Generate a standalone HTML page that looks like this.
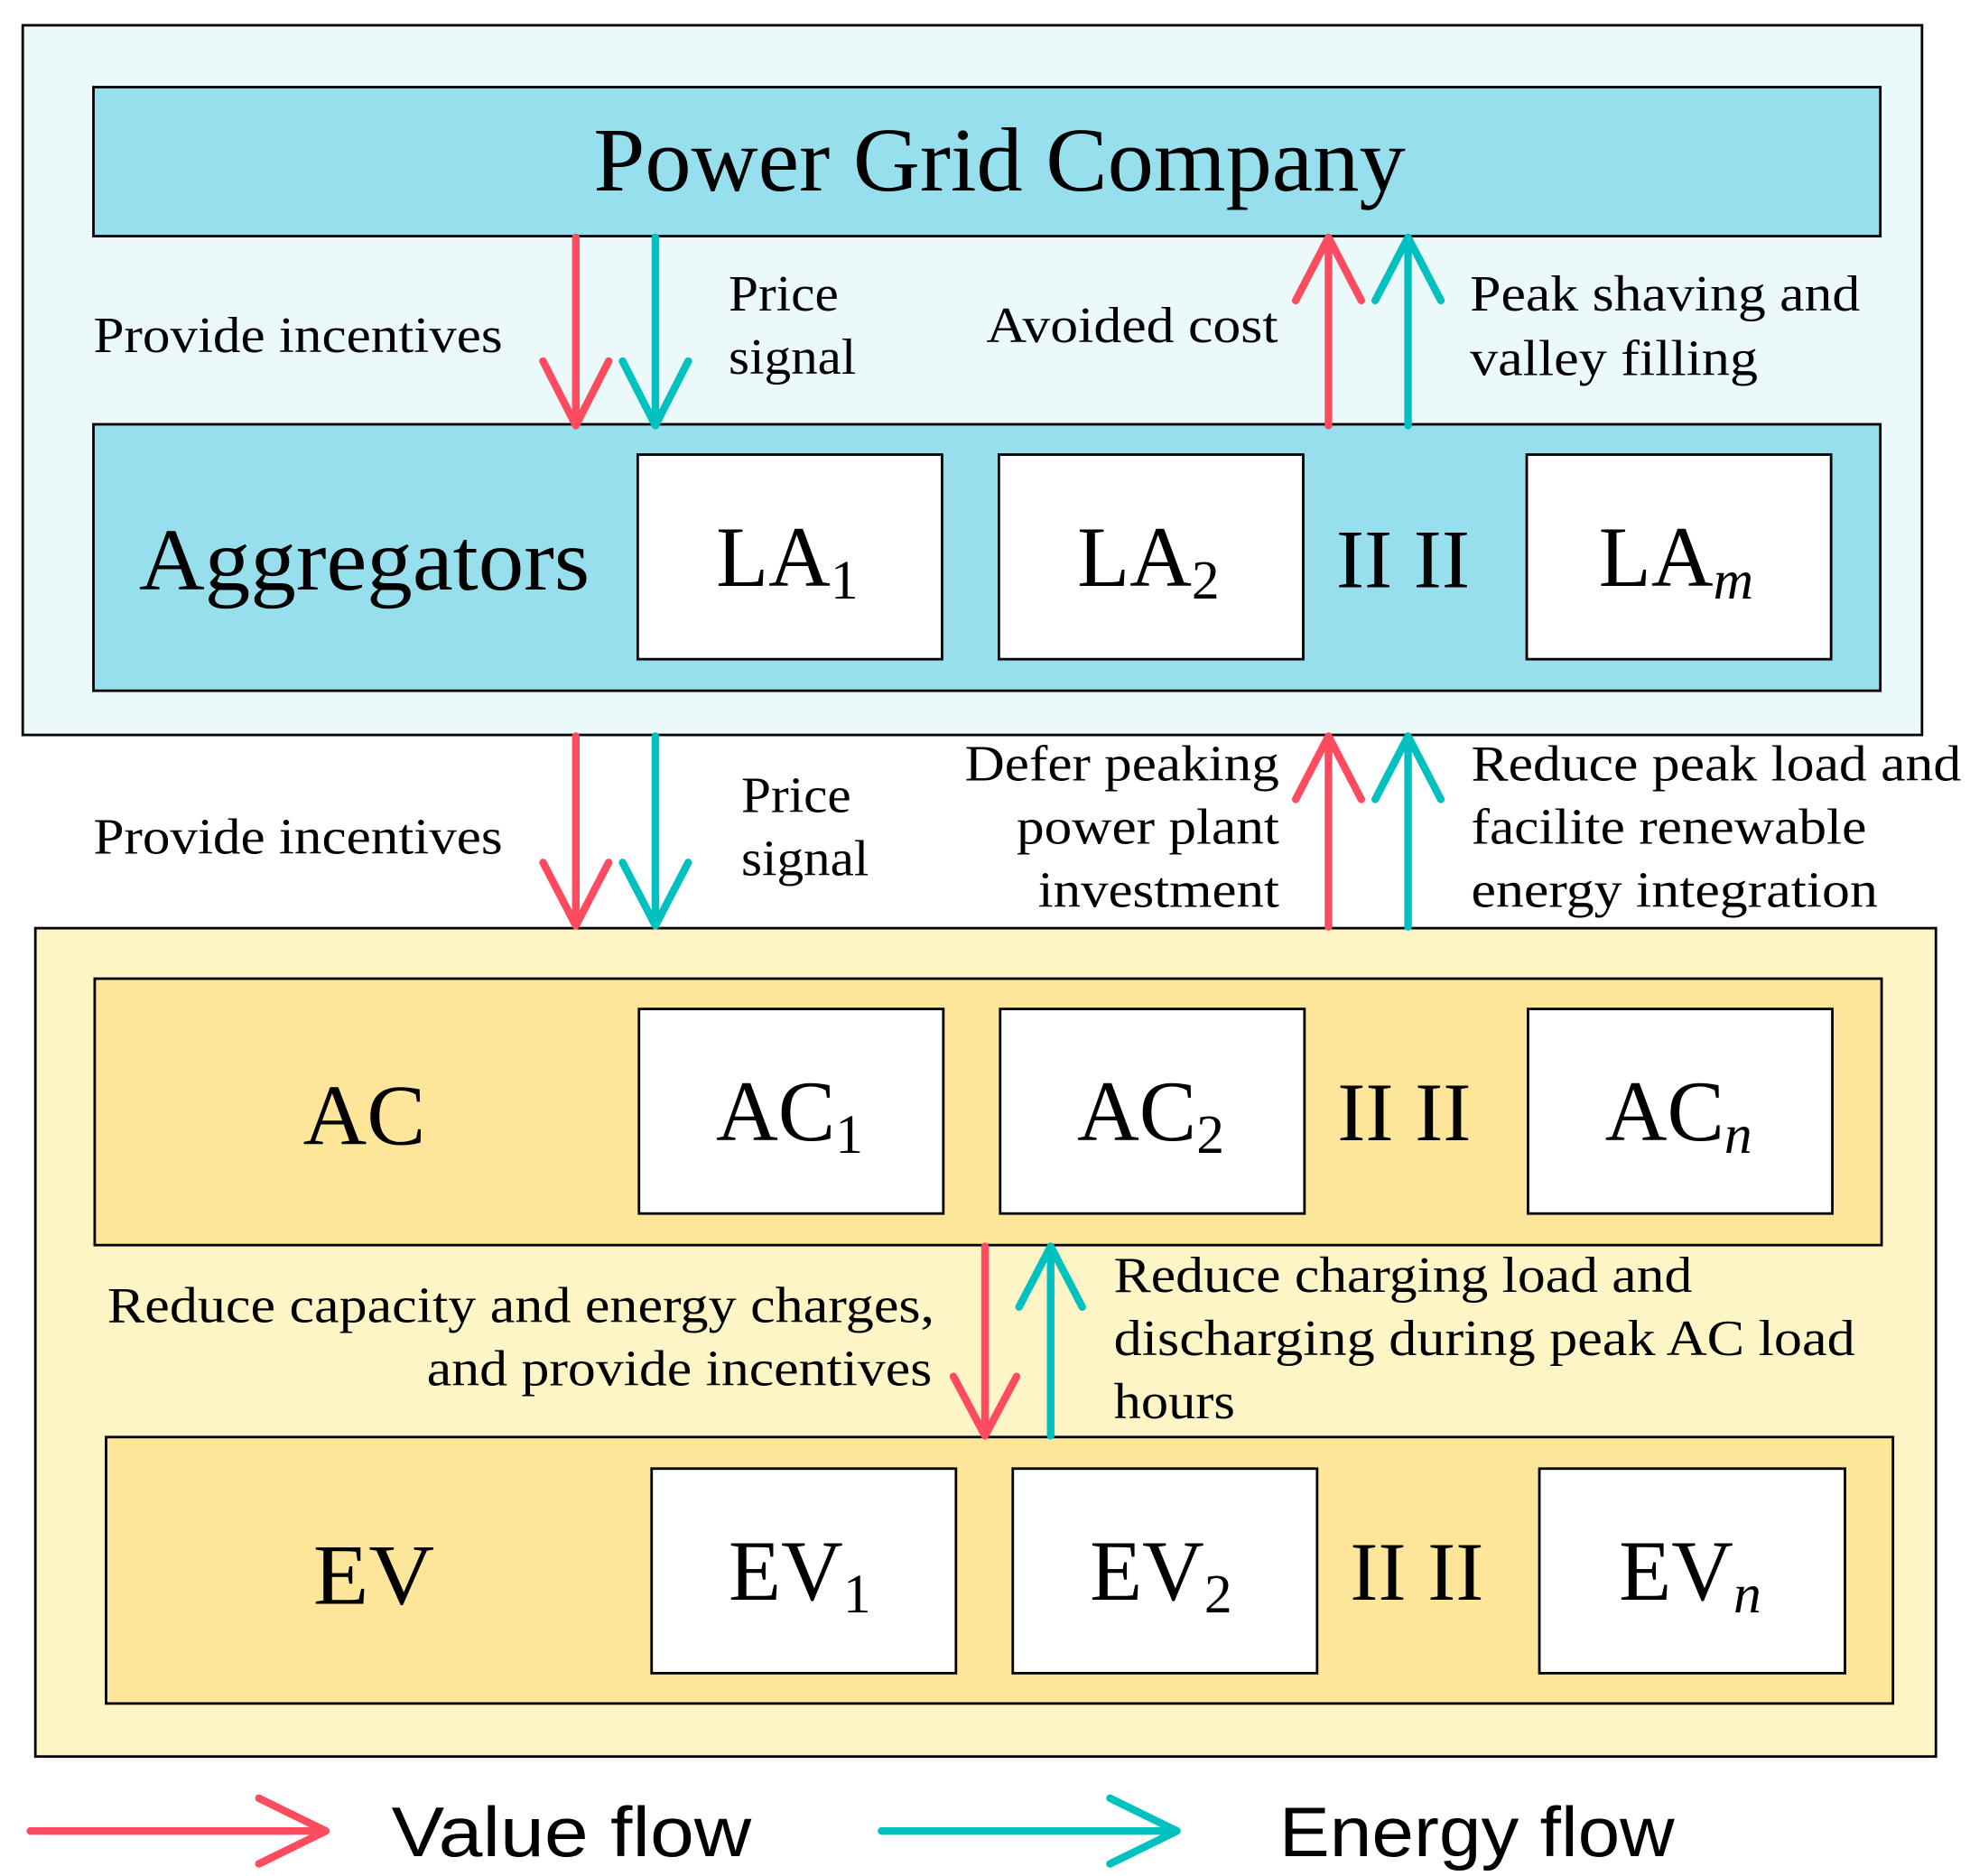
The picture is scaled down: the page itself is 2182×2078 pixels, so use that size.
<!DOCTYPE html>
<html><head><meta charset="utf-8"><style>
html,body{margin:0;padding:0;background:#fff;}
svg{display:block;}
.t{font-family:"Liberation Serif",serif;fill:#000;}
.s{font-family:"Liberation Sans",sans-serif;fill:#000;}
</style></head><body>
<svg width="2182" height="2078" viewBox="0 0 1560 1485.6" preserveAspectRatio="none" xmlns="http://www.w3.org/2000/svg">
<g stroke="#000" stroke-width="2">
<rect x="18" y="20" width="1504" height="562" fill="#ebf9fb"/>
<rect x="74" y="69" width="1415" height="118" fill="#97dfed"/>
<rect x="74" y="336" width="1415" height="211" fill="#97dfed"/>
<rect x="505" y="360" width="241" height="162" fill="#fff"/>
<rect x="791" y="360" width="241" height="162" fill="#fff"/>
<rect x="1209" y="360" width="241" height="162" fill="#fff"/>
<rect x="28" y="735" width="1505" height="656" fill="#fdf5c5"/>
<rect x="75" y="775" width="1415" height="211" fill="#fde69a"/>
<rect x="506" y="799" width="241" height="162" fill="#fff"/>
<rect x="792" y="799" width="241" height="162" fill="#fff"/>
<rect x="1210" y="799" width="241" height="162" fill="#fff"/>
<rect x="84" y="1138" width="1415" height="211" fill="#fde69a"/>
<rect x="516" y="1163" width="241" height="162" fill="#fff"/>
<rect x="802" y="1163" width="241" height="162" fill="#fff"/>
<rect x="1219" y="1163" width="242" height="162" fill="#fff"/>
</g>
<g fill="none" stroke-width="6" stroke-linecap="round" stroke-linejoin="round">
<g stroke="#fd4b60">
<path d="M456 188V337M430 286L456 337L482 286"/>
<path d="M456 583V733M430 683L456 733L482 683"/>
<path d="M1052 337V188M1026 238L1052 188L1078 238"/>
<path d="M1052 734V583M1026 633L1052 583L1078 633"/>
<path d="M780 987V1137M755 1090L780 1137L805 1090"/>
<path d="M24 1450H258M205 1424L258 1450L205 1476"/>
</g>
<g stroke="#00c0c0">
<path d="M519 188V337M493 286L519 337L545 286"/>
<path d="M519 583V733M493 683L519 733L545 683"/>
<path d="M1115 337V188M1089 238L1115 188L1141 238"/>
<path d="M1115 734V583M1089 633L1115 583L1141 633"/>
<path d="M832 1137V987M807 1035L832 987L857 1035"/>
<path d="M698 1450H932M879 1424L932 1450L879 1476"/>
</g>
</g>
<g lengthAdjust="spacingAndGlyphs">
<text class="t" x="470" y="151" font-size="72" textLength="643" lengthAdjust="spacingAndGlyphs">Power Grid Company</text>
<text class="t" x="110" y="467" font-size="70" textLength="357" lengthAdjust="spacingAndGlyphs">Aggregators</text>
<text class="t" x="567" y="464" font-size="68">LA<tspan font-size="44" dy="10">1</tspan></text>
<text class="t" x="853" y="464" font-size="68">LA<tspan font-size="44" dy="10">2</tspan></text>
<text class="t" x="1266" y="464" font-size="68">LA<tspan font-size="44" dy="10" font-style="italic">m</tspan></text>
<text class="t" x="1058" y="465" font-size="66" textLength="106" lengthAdjust="spacingAndGlyphs">II II</text>
<text class="t" x="240" y="906" font-size="68" textLength="97" lengthAdjust="spacingAndGlyphs">AC</text>
<text class="t" x="567" y="903" font-size="68">AC<tspan font-size="44" dy="10">1</tspan></text>
<text class="t" x="853" y="903" font-size="68">AC<tspan font-size="44" dy="10">2</tspan></text>
<text class="t" x="1271" y="903" font-size="68">AC<tspan font-size="44" dy="10" font-style="italic">n</tspan></text>
<text class="t" x="1059" y="903" font-size="66" textLength="106" lengthAdjust="spacingAndGlyphs">II II</text>
<text class="t" x="248" y="1270" font-size="68" textLength="96" lengthAdjust="spacingAndGlyphs">EV</text>
<text class="t" x="577" y="1267" font-size="68">EV<tspan font-size="44" dy="10">1</tspan></text>
<text class="t" x="863" y="1267" font-size="68">EV<tspan font-size="44" dy="10">2</tspan></text>
<text class="t" x="1282" y="1267" font-size="68">EV<tspan font-size="44" dy="10" font-style="italic">n</tspan></text>
<text class="t" x="1069" y="1267" font-size="66" textLength="106" lengthAdjust="spacingAndGlyphs">II II</text>
</g>
<g class="t" font-size="40">
<text x="74" y="279" textLength="324" lengthAdjust="spacingAndGlyphs">Provide incentives</text>
<text x="577" y="246" textLength="87" lengthAdjust="spacingAndGlyphs">Price</text>
<text x="577" y="296" textLength="101" lengthAdjust="spacingAndGlyphs">signal</text>
<text x="781" y="271" textLength="231" lengthAdjust="spacingAndGlyphs">Avoided cost</text>
<text x="1164" y="246" textLength="309" lengthAdjust="spacingAndGlyphs">Peak shaving and</text>
<text x="1164" y="297" textLength="228" lengthAdjust="spacingAndGlyphs">valley filling</text>
<text x="74" y="676" textLength="324" lengthAdjust="spacingAndGlyphs">Provide incentives</text>
<text x="587" y="643" textLength="87" lengthAdjust="spacingAndGlyphs">Price</text>
<text x="587" y="693" textLength="101" lengthAdjust="spacingAndGlyphs">signal</text>
<text x="764" y="618" textLength="249" lengthAdjust="spacingAndGlyphs">Defer peaking</text>
<text x="805" y="668" textLength="208" lengthAdjust="spacingAndGlyphs">power plant</text>
<text x="822" y="718" textLength="191" lengthAdjust="spacingAndGlyphs">investment</text>
<text x="1165" y="618" textLength="388" lengthAdjust="spacingAndGlyphs">Reduce peak load and</text>
<text x="1165" y="668" textLength="313" lengthAdjust="spacingAndGlyphs">facilite renewable</text>
<text x="1165" y="718" textLength="322" lengthAdjust="spacingAndGlyphs">energy integration</text>
<text x="85" y="1047" textLength="655" lengthAdjust="spacingAndGlyphs">Reduce capacity and energy charges,</text>
<text x="338" y="1097" textLength="400" lengthAdjust="spacingAndGlyphs">and provide incentives</text>
<text x="882" y="1023" textLength="458" lengthAdjust="spacingAndGlyphs">Reduce charging load and</text>
<text x="882" y="1073" textLength="587" lengthAdjust="spacingAndGlyphs">discharging during peak AC load</text>
<text x="882" y="1123" textLength="96" lengthAdjust="spacingAndGlyphs">hours</text>
</g>
<text class="s" x="310" y="1470" font-size="56" textLength="285" lengthAdjust="spacingAndGlyphs">Value flow</text>
<text class="s" x="1013" y="1470" font-size="56" textLength="313" lengthAdjust="spacingAndGlyphs">Energy flow</text>
</svg>
</body></html>
